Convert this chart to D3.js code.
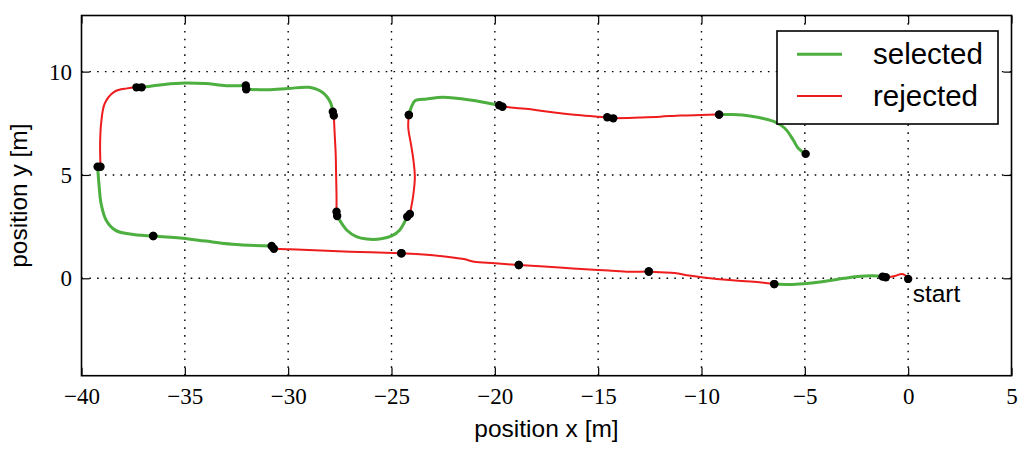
<!DOCTYPE html>
<html>
<head>
<meta charset="utf-8">
<script src="https://cdn.jsdelivr.net/npm/d3@7"></script>
<style>
  html, body { margin: 0; padding: 0; background: #fff; }
  svg { display: block; }
  .tick text { font-family: "Liberation Serif", "DejaVu Serif", serif; font-size: 23px; fill: #000; }
  .lbl { font-family: "Liberation Sans", Arial, sans-serif; fill: #000; }
</style>
</head>
<body>
<svg id="chart" width="1034" height="457"></svg>
<script>
// trajectory split in segments, from the start point going left
const segStatus = ['rejected', 'selected', 'rejected', 'rejected', 'rejected', 'rejected',
  'selected', 'selected', 'rejected', 'selected', 'selected', 'rejected',
  'selected', 'rejected', 'selected', 'rejected', 'rejected', 'selected'];

const segPoints = [
  [[0, -0.03], [-0.15, 0.15], [-0.32, 0.21], [-0.6, 0.12], [-0.9, 0.06], [-1.08, 0.05]],
  [[-1.24, 0.08], [-1.7, 0.12], [-2.3, 0.1], [-3.1, 0.0], [-3.95, -0.13], [-4.8, -0.24], [-5.6, -0.3], [-6.48, -0.28]],
  [[-6.48, -0.28], [-7.2, -0.19], [-8.5, -0.1], [-10, 0.05], [-10.6, 0.13], [-11.3, 0.26], [-12, 0.29], [-12.55, 0.33]],
  [[-12.55, 0.33], [-13.5, 0.32], [-14.5, 0.38], [-15, 0.4], [-16.7, 0.51], [-18.84, 0.64]],
  [[-18.84, 0.64], [-20, 0.73], [-21, 0.8], [-21.5, 0.93], [-23, 1.12], [-24.52, 1.21]],
  [[-24.52, 1.21], [-27, 1.29], [-29.9, 1.4], [-30.69, 1.43]],
  [[-30.8, 1.56], [-32.7, 1.65], [-34, 1.8], [-35.1, 1.94], [-36.53, 2.05]],
  [[-36.53, 2.05], [-37.5, 2.12], [-38.35, 2.32], [-38.8, 2.8], [-39.05, 3.6], [-39.15, 4.5], [-39.22, 5.4]],
  [[-39.08, 5.4], [-39.1, 6.5], [-39.05, 7.5], [-38.87, 8.47], [-38.4, 9.03], [-37.8, 9.19], [-37.34, 9.24]],
  [[-37.09, 9.24], [-36, 9.38], [-35, 9.45], [-34, 9.42], [-33, 9.32], [-32.05, 9.33]],
  [[-32.03, 9.15], [-31, 9.12], [-30, 9.18], [-29, 9.24], [-28.35, 9.0], [-27.95, 8.5], [-27.84, 8.06]],
  [[-27.79, 7.87], [-27.75, 7.0], [-27.7, 6.0], [-27.68, 5.0], [-27.66, 4.0], [-27.66, 3.22]],
  [[-27.63, 3.01], [-27.17, 2.34], [-26.7, 2.02], [-26.2, 1.9], [-25.5, 1.91], [-24.99, 2.05], [-24.6, 2.34], [-24.24, 2.98]],
  [[-24.11, 3.11], [-23.95, 4.0], [-23.87, 4.9], [-23.95, 5.8], [-24.06, 6.5], [-24.19, 7.3], [-24.16, 7.9]],
  [[-24.16, 7.9], [-24.03, 8.31], [-23.85, 8.6], [-23.3, 8.68], [-22.5, 8.76], [-21.2, 8.63], [-19.79, 8.37]],
  [[-19.63, 8.3], [-18.5, 8.2], [-17.5, 8.07], [-16, 7.9], [-15, 7.82], [-14.56, 7.79]],
  [[-14.27, 7.74], [-13, 7.78], [-12, 7.82], [-11, 7.88], [-10, 7.9], [-9.15, 7.92]],
  [[-9.15, 7.92], [-8.5, 7.92], [-7.66, 7.85], [-6.53, 7.6], [-5.97, 7.26], [-5.56, 6.69], [-5.32, 6.29], [-4.96, 6.02]]
];

const xTicks = [-40, -35, -30, -25, -20, -15, -10, -5, 0, 5];
const yTicks = [0, 5, 10];
const legendItems = ['selected', 'rejected'];
const startLabel = 'start';

const COLORS = { selected: '#4caf3f', rejected: '#ee1c1c' };
const WIDTHS = { selected: 3, rejected: 2 };

const plotLeft = 81.5, plotRight = 1011.5, plotTop = 15.5, plotBottom = 375.7;
const x = d3.scaleLinear().domain([-40, 5]).range([plotLeft, plotRight]);
const y = d3.scaleLinear().domain([-4.713, 12.716]).range([plotBottom, plotTop]);

const svg = d3.select('#chart');

// dotted grid
const grid = svg.append('g').attr('stroke', '#000').attr('stroke-width', 1.4)
  .attr('stroke-dasharray', '1.6,6.2').attr('fill', 'none');
grid.selectAll('.gx').data(xTicks.slice(1, -1)).enter().append('line')
  .attr('x1', d => x(d)).attr('x2', d => x(d)).attr('y1', plotBottom).attr('y2', plotTop);
grid.selectAll('.gy').data(yTicks).enter().append('line')
  .attr('y1', d => y(d)).attr('y2', d => y(d)).attr('x1', plotLeft).attr('x2', plotRight);

// trajectory
const line = d3.line().x(d => x(d[0])).y(d => y(d[1])).curve(d3.curveCatmullRom.alpha(0.5));
svg.append('g').selectAll('path').data(segPoints).enter().append('path')
  .attr('d', line)
  .attr('fill', 'none')
  .attr('stroke', (d, i) => COLORS[segStatus[i]])
  .attr('stroke-width', (d, i) => WIDTHS[segStatus[i]])
  .attr('stroke-linecap', 'round').attr('stroke-linejoin', 'round');

const ends = [];
segPoints.forEach(p => { ends.push(p[0]); ends.push(p[p.length - 1]); });
svg.append('g').selectAll('circle').data(ends).enter().append('circle')
  .attr('cx', d => x(d[0])).attr('cy', d => y(d[1])).attr('r', 4.2).attr('fill', '#000');

// axes with inward ticks
const gx = svg.append('g').attr('transform', `translate(0,${plotBottom})`)
  .call(d3.axisBottom(x).tickValues(xTicks).tickSize(-8).tickPadding(11.5));
const gy = svg.append('g').attr('transform', `translate(${plotLeft},0)`)
  .call(d3.axisLeft(y).tickValues(yTicks).tickSize(-8).tickPadding(9.5));
const gt = svg.append('g').attr('transform', `translate(0,${plotTop})`)
  .call(d3.axisTop(x).tickValues(xTicks).tickSize(-8).tickFormat(''));
const gr = svg.append('g').attr('transform', `translate(${plotRight},0)`)
  .call(d3.axisRight(y).tickValues(yTicks).tickSize(-8).tickFormat(''));
[gx, gy, gt, gr].forEach(g => {
  g.select('.domain').remove();
  g.selectAll('.tick line').attr('stroke', '#000').attr('stroke-width', 1.2);
  g.attr('font-family', null).attr('font-size', null);
});

svg.append('rect').attr('x', plotLeft).attr('y', plotTop)
  .attr('width', plotRight - plotLeft).attr('height', plotBottom - plotTop)
  .attr('fill', 'none').attr('stroke', '#000').attr('stroke-width', 1.6);

// labels
svg.append('text').attr('class', 'lbl').attr('x', (plotLeft + plotRight) / 2).attr('y', 437)
  .attr('text-anchor', 'middle').attr('font-size', 24.5).text('position x [m]');
svg.append('text').attr('class', 'lbl')
  .attr('transform', `translate(27,${(plotTop + plotBottom) / 2}) rotate(-90)`)
  .attr('text-anchor', 'middle').attr('font-size', 24.5).text('position y [m]');
svg.append('text').attr('class', 'lbl').attr('x', x(0) + 4.5).attr('y', 302.3)
  .attr('font-size', 24.5).text(startLabel);

// legend
const lg = svg.append('g');
lg.append('rect').attr('x', 777).attr('y', 31).attr('width', 221).attr('height', 93)
  .attr('fill', '#fff').attr('stroke', '#000').attr('stroke-width', 1.6);
legendItems.forEach((name, i) => {
  const ly = 54.3 + i * 41.7;
  lg.append('line').attr('x1', 797).attr('x2', 842).attr('y1', ly).attr('y2', ly)
    .attr('stroke', COLORS[name]).attr('stroke-width', WIDTHS[name]);
  lg.append('text').attr('class', 'lbl').attr('x', 873).attr('y', ly + 9.5)
    .attr('font-size', 29.5).text(name);
});
</script>
</body>
</html>
